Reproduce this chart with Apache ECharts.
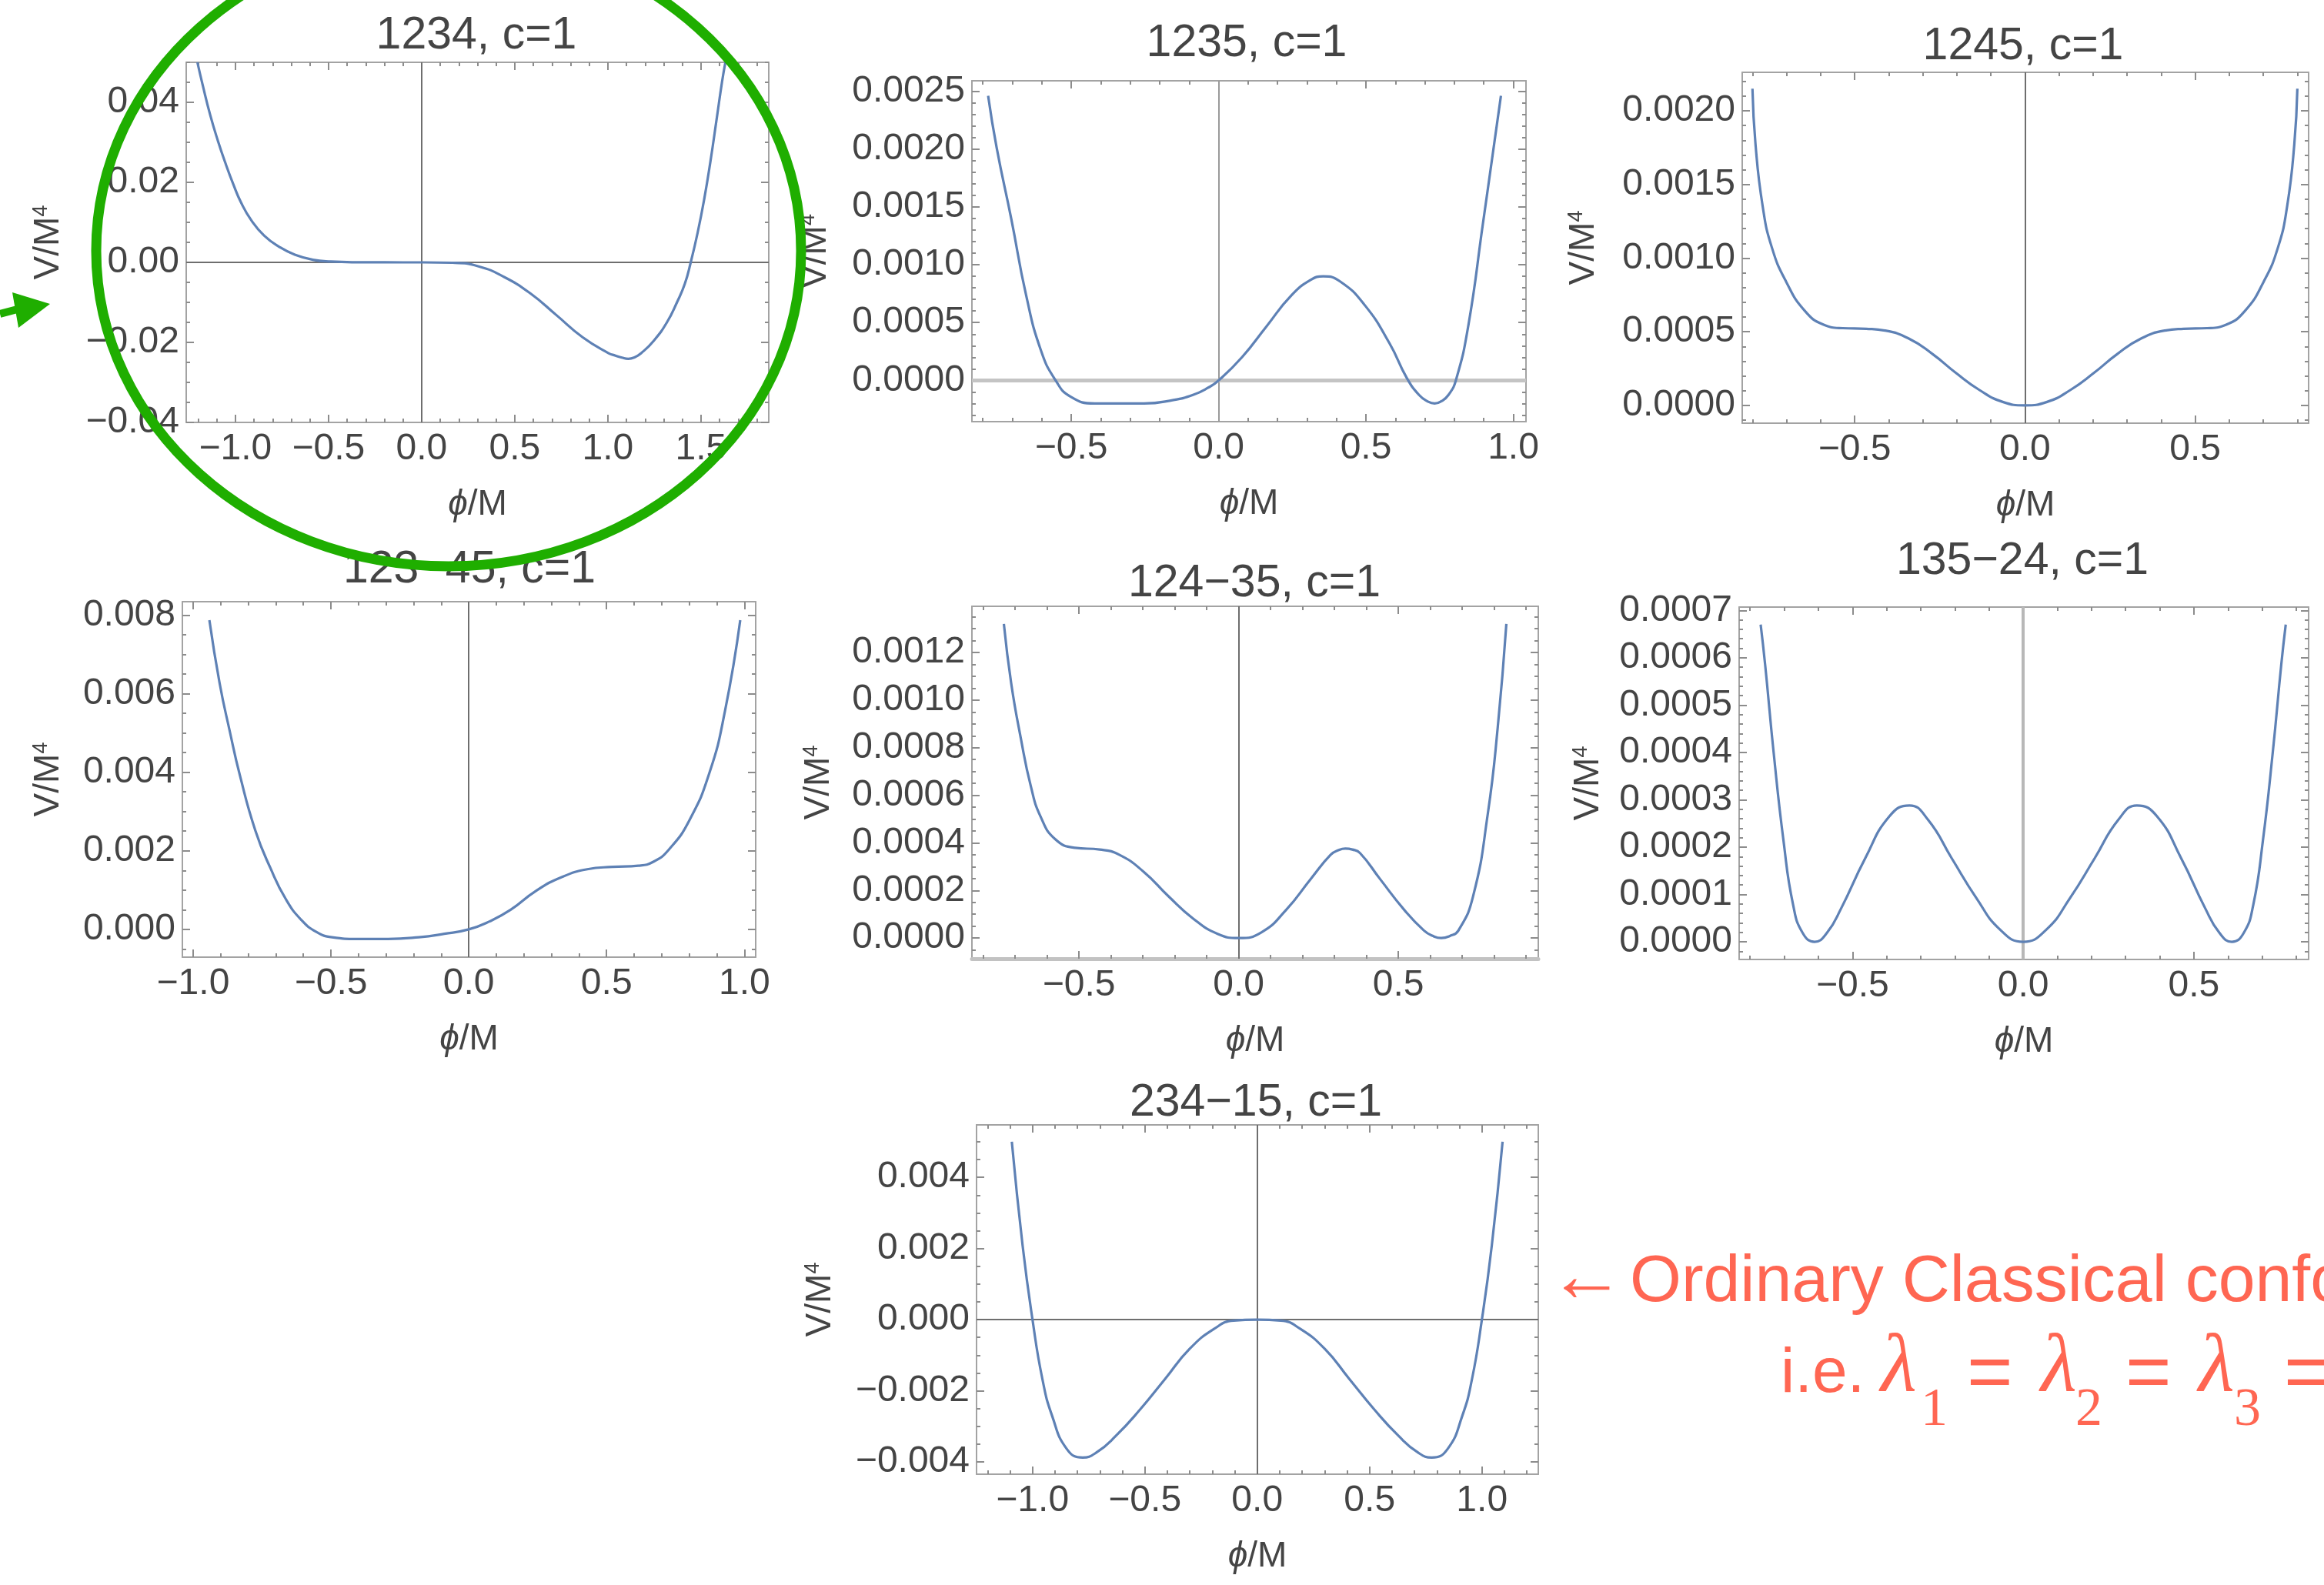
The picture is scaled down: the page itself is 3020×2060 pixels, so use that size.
<!DOCTYPE html>
<html>
<head>
<meta charset="utf-8">
<title>Potential shapes V/M^4</title>
<script src="https://cdn.jsdelivr.net/npm/echarts@6/dist/echarts.min.js"></script>
<style>
  html, body { margin: 0; padding: 0; background: #ffffff; }
  #chart { width: 3020px; height: 2060px; }
</style>
</head>
<body>
<div id="chart"></div>
<script>
// ---------- curve samples: phi/M and V/M^4 ----------
const phi1234 = [-1.204, -1.176, -1.135, -1.094, -1.052, -1.011, -0.970, -0.915, -0.846, -0.763, -0.681, -0.584, -0.488, -0.35, -0.2, 0, 0.166, 0.306, 0.445, 0.585, 0.724, 0.864, 1.004, 1.041, 1.075, 1.110, 1.145, 1.179, 1.248, 1.317, 1.372, 1.413, 1.445, 1.482, 1.517, 1.551, 1.585, 1.613, 1.631];
const v1234   = [0.05, 0.0444, 0.0368, 0.0304, 0.0246, 0.0195, 0.0150, 0.01055, 0.0067, 0.00384, 0.00192, 0.00065, 0.0002, 0.00003, 0.000005, 0, -0.0001, -0.001, -0.0037, -0.0078, -0.0132, -0.0187, -0.0227, -0.0233, -0.0238, -0.0241, -0.0237, -0.0227, -0.0195, -0.0150, -0.0099, -0.0054, 0, 0.0074, 0.0157, 0.0253, 0.0361, 0.0451, 0.05];

const phi1235 = [-0.782, -0.753, -0.703, -0.653, -0.603, -0.553, -0.503, -0.42, -0.253, -0.153, -0.087, -0.037, 0, 0.08, 0.163, 0.247, 0.313, 0.355, 0.413, 0.497, 0.58, 0.638, 0.68, 0.71, 0.733, 0.757, 0.78, 0.805, 0.847, 0.897, 0.93, 0.958];
const v1235   = [0.00246, 0.00201, 0.00139, 0.000735, 0.000261, 0.0, -0.000139, -0.000199, -0.000199, -0.000169, -0.000125, -0.000065, 0, 0.000202, 0.000469, 0.000735, 0.000869, 0.000899, 0.000854, 0.000647, 0.00032, 0.000024, -0.000125, -0.000182, -0.000199, -0.000178, -0.000125, 0, 0.000469, 0.001358, 0.001952, 0.00246];

const phi1245 = [-0.80, -0.791, -0.770, -0.743, -0.701, -0.646, -0.591, -0.535, -0.466, -0.411, -0.342, -0.272, -0.203, -0.134, -0.065, 0, 0.065, 0.134, 0.203, 0.272, 0.342, 0.411, 0.466, 0.535, 0.591, 0.646, 0.701, 0.743, 0.770, 0.791, 0.80];
const v1245   = [0.00215, 0.001772, 0.001352, 0.001072, 0.000839, 0.000641, 0.000548, 0.000524, 0.00052, 0.000508, 0.000455, 0.00035, 0.000221, 0.000105, 0.0000233, 0, 0.0000233, 0.000105, 0.000221, 0.00035, 0.000455, 0.000508, 0.00052, 0.000524, 0.000548, 0.000641, 0.000839, 0.001072, 0.001352, 0.001772, 0.00215];

const phi12345 = [-0.941, -0.904, -0.867, -0.83, -0.774, -0.719, -0.663, -0.607, -0.552, -0.496, -0.404, -0.293, -0.181, -0.089, 0, 0.075, 0.152, 0.244, 0.337, 0.43, 0.522, 0.615, 0.67, 0.726, 0.8, 0.874, 0.93, 0.985];
const v12345   = [0.00787, 0.00627, 0.00504, 0.00391, 0.00251, 0.00155, 0.00076, 0.000236, -0.00007, -0.000201, -0.000245, -0.000245, -0.000201, -0.000114, 0, 0.0002, 0.000498, 0.00098, 0.00133, 0.00153, 0.00159, 0.00162, 0.00172, 0.00203, 0.00277, 0.004, 0.00557, 0.00787];

const phi12435 = [-0.735, -0.712, -0.682, -0.651, -0.62, -0.574, -0.512, -0.435, -0.374, -0.297, -0.22, -0.143, -0.066, 0, 0.072, 0.149, 0.226, 0.288, 0.312, 0.334, 0.356, 0.38, 0.442, 0.518, 0.58, 0.61, 0.634, 0.66, 0.688, 0.734, 0.78, 0.811, 0.838];
const v12435   = [0.00132, 0.00107, 0.00084, 0.00064, 0.00051, 0.000415, 0.000379, 0.000372, 0.00035, 0.000278, 0.000176, 0.0000824, 0.0000174, 0, 0.0000246, 0.000119, 0.000249, 0.00035, 0.000369, 0.000376, 0.000372, 0.000357, 0.000249, 0.000119, 0.0000318, 0.0000075, 0, 0.000008, 0.0000318, 0.000176, 0.000523, 0.000885, 0.00132];

const phi13524 = [-0.769, -0.756, -0.731, -0.702, -0.674, -0.646, -0.611, -0.575, -0.533, -0.463, -0.392, -0.333, -0.279, -0.209, -0.138, -0.068, 0, 0.068, 0.138, 0.209, 0.279, 0.333, 0.392, 0.463, 0.533, 0.575, 0.611, 0.646, 0.674, 0.702, 0.731, 0.756, 0.769];
const v13524   = [0.00067, 0.000586, 0.0004, 0.000213, 0.0000784, 0.0000187, 0, 0.0000187, 0.000071, 0.000176, 0.000265, 0.000288, 0.000258, 0.000176, 0.0000934, 0.000026, 0, 0.000026, 0.0000934, 0.000176, 0.000258, 0.000288, 0.000265, 0.000176, 0.000071, 0.0000187, 0, 0.0000187, 0.0000784, 0.000213, 0.0004, 0.000586, 0.00067];

const phi23415 = [-1.092, -1.044, -1.0, -0.956, -0.913, -0.847, -0.777, -0.716, -0.629, -0.52, -0.41, -0.301, -0.192, -0.105, 0, 0.105, 0.192, 0.301, 0.41, 0.52, 0.629, 0.716, 0.777, 0.847, 0.913, 0.956, 1.0, 1.044, 1.092];
const v23415   = [0.005, 0.00208, 0, -0.00167, -0.0027, -0.00364, -0.00388, -0.00374, -0.00327, -0.00252, -0.00167, -0.000826, -0.000263, -0.000028, 0, -0.000028, -0.000263, -0.000826, -0.00167, -0.00252, -0.00327, -0.00374, -0.00388, -0.00364, -0.0027, -0.00167, 0, 0.00208, 0.005];

// ---------- panel titles and tick label values ----------
const titles = ['1234, c=1', '1235, c=1', '1245, c=1', '123\u221245, c=1', '124\u221235, c=1', '135\u221224, c=1', '234\u221215, c=1'];
const xTicks = [
  [-1.0, -0.5, 0, 0.5, 1.0, 1.5],
  [-0.5, 0, 0.5, 1.0],
  [-0.5, 0, 0.5],
  [-1.0, -0.5, 0, 0.5, 1.0],
  [-0.5, 0, 0.5],
  [-0.5, 0, 0.5],
  [-1.0, -0.5, 0, 0.5, 1.0]
];
const yTicks = [
  [-0.04, -0.02, 0, 0.02, 0.04],
  [0, 0.0005, 0.001, 0.0015, 0.002, 0.0025],
  [0, 0.0005, 0.001, 0.0015, 0.002],
  [0, 0.002, 0.004, 0.006, 0.008],
  [0, 0.0002, 0.0004, 0.0006, 0.0008, 0.001, 0.0012],
  [0, 0.0001, 0.0002, 0.0003, 0.0004, 0.0005, 0.0006, 0.0007],
  [-0.004, -0.002, 0, 0.002, 0.004]
];
const curvesPhi = [phi1234, phi1235, phi1245, phi12345, phi12435, phi13524, phi23415];
const curvesV   = [v1234, v1235, v1245, v12345, v12435, v13524, v23415];

// ---------- look ----------
const FONT = '"Liberation Sans", Arial, Helvetica, sans-serif';
const SERIF = '"Liberation Serif", "Times New Roman", serif';
const TEXT = '#444444';
const CURVE = '#5e81b5';
const FRAME = { color: '#a3a3a3', width: 2 };
const TICK = { color: '#8c8c8c', width: 2 };
const AXIS_DARK = { color: '#6e6e6e', width: 2 };
const MAJ = 10, MIN = 5;
const RED = '#ff6652';
const GREEN = '#1fae00';

// panel boxes, plot ranges and per-panel styling
const panels = [
  { box: [242, 81, 757, 468],  x: [-1.264, 1.864], y: [-0.04, 0.05],        xm: 0.1, ym: 0.005,   xd: 1, yd: 2, t: [619, 47],   yGap: 156, zx: AXIS_DARK, zy: AXIS_DARK },
  { box: [1263, 105, 720, 443], x: [-0.837, 1.043], y: [-0.000356, 0.002589], xm: 0.1, ym: 0.0001,  xd: 1, yd: 4, t: [1620, 57],  yGap: 180, zx: { color: '#9a9a9a', width: 2 }, zy: { color: '#c4c4c4', width: 5 } },
  { box: [2264, 94, 736, 456],  x: [-0.83, 0.833],  y: [-0.000121, 0.002261], xm: 0.1, ym: 0.0001,  xd: 1, yd: 4, t: [2629, 61],  yGap: 183, zx: AXIS_DARK, zy: null },
  { box: [237, 782, 745, 462],  x: [-1.039, 1.041], y: [-0.000708, 0.00834],  xm: 0.1, ym: 0.0005,  xd: 1, yd: 3, t: [610, 741],  yGap: 151, zx: AXIS_DARK, zy: null },
  { box: [1263, 788, 736, 458], x: [-0.835, 0.938], y: [-0.0000868, 0.001394], xm: 0.1, ym: 0.00005, xd: 1, yd: 4, t: [1630, 759], yGap: 176, zx: AXIS_DARK, zy: null, bottomFrame: { color: '#c2c2c2', width: 5 } },
  { box: [2260, 789, 740, 458], x: [-0.832, 0.836], y: [-0.0000373, 0.000707], xm: 0.1, ym: 0.00002, xd: 1, yd: 4, t: [2628, 730], yGap: 173, zx: { color: '#b8b8b8', width: 4 }, zy: null },
  { box: [1269, 1462, 730, 454], x: [-1.249, 1.251], y: [-0.004347, 0.005474], xm: 0.1, ym: 0.0005,  xd: 1, yd: 3, t: [1632, 1434], yGap: 180, zx: AXIS_DARK, zy: AXIS_DARK }
];

// minor tick positions between the labelled ones
function minorTicks(min, max, step, majors) {
  const out = [];
  const k0 = Math.ceil(min / step - 1e-9), k1 = Math.floor(max / step + 1e-9);
  for (let k = k0; k <= k1; k++) {
    const v = +(k * step).toFixed(10);
    if (!majors.some(m => Math.abs(m - v) < step * 1e-3)) out.push(v);
  }
  return out;
}
const fmt = (v, d) => {
  const s = (Math.abs(v) < 1e-12 ? 0 : v).toFixed(d);
  return s.replace('-', '\u2212');
};

const grids = [], xAxes = [], yAxes = [], series = [], graphics = [];

panels.forEach((P, i) => {
  grids.push({ left: P.box[0], top: P.box[1], width: P.box[2], height: P.box[3], containLabel: false });
  const xMinor = minorTicks(P.x[0], P.x[1], P.xm, xTicks[i]);
  const yMinor = minorTicks(P.y[0], P.y[1], P.ym, yTicks[i]);
  const labelStyle = { fontSize: 48, color: TEXT, fontFamily: FONT };
  const base = (dim, pos, lineOn, ticks, len) => ({
    type: 'value', gridIndex: i,
    min: dim === 'x' ? P.x[0] : P.y[0], max: dim === 'x' ? P.x[1] : P.y[1],
    position: pos,
    splitLine: { show: false },
    axisLine: { show: lineOn, onZero: false, lineStyle: FRAME },
    axisTick: { show: true, inside: true, length: len, customValues: ticks, lineStyle: TICK },
    axisLabel: { show: false },
    axisPointer: { show: false }
  });

  // bottom: labelled axis with frame line, plus minor ticks
  const xb = base('x', 'bottom', true, xTicks[i], MAJ);
  if (P.bottomFrame) xb.axisLine.lineStyle = P.bottomFrame;
  xb.axisLabel = Object.assign({ show: true, customValues: xTicks[i], margin: 11, formatter: v => fmt(v, P.xd), hideOverlap: false }, labelStyle);
  xb.name = '{i|\u03d5}/M';
  xb.nameLocation = 'middle';
  xb.nameGap = 84;
  xb.nameTextStyle = { fontSize: 46, color: TEXT, fontFamily: FONT, rich: { i: { fontSize: 46, fontStyle: 'italic', color: TEXT, fontFamily: FONT } } };
  xAxes.push(xb, base('x', 'bottom', false, xMinor, MIN), base('x', 'top', true, xTicks[i], MAJ), base('x', 'top', false, xMinor, MIN));

  // left: labelled axis with frame line, plus minor ticks
  const yl = base('y', 'left', true, yTicks[i], MAJ);
  yl.axisLabel = Object.assign({ show: true, customValues: yTicks[i], margin: 9, formatter: v => fmt(v, P.yd), hideOverlap: false }, labelStyle);
  yl.name = 'V/M{s|4}';
  yl.nameLocation = 'middle';
  yl.nameGap = P.yGap;
  yl.nameTextStyle = { fontSize: 46, color: TEXT, fontFamily: FONT, rich: { s: { fontSize: 27, color: TEXT, fontFamily: FONT, verticalAlign: 'top' } } };
  yAxes.push(yl, base('y', 'left', false, yMinor, MIN), base('y', 'right', true, yTicks[i], MAJ), base('y', 'right', false, yMinor, MIN));

  const zeroLines = [];
  if (P.zx) zeroLines.push({ xAxis: 0, lineStyle: Object.assign({ type: 'solid' }, P.zx) });
  if (P.zy) zeroLines.push({ yAxis: 0, lineStyle: Object.assign({ type: 'solid' }, P.zy) });

  series.push({
    type: 'line',
    xAxisIndex: 4 * i, yAxisIndex: 4 * i,
    data: curvesPhi[i].map((p, k) => [p, curvesV[i][k]]),
    showSymbol: false, symbol: 'none',
    smooth: 0.5,
    clip: true,
    lineStyle: { color: CURVE, width: 3.2 },
    z: 3,
    silent: true,
    markLine: {
      silent: true, symbol: ['none', 'none'], z: 1,
      label: { show: false },
      animation: false,
      data: zeroLines
    }
  });

  graphics.push({
    type: 'text', x: P.t[0], y: P.t[1], z: 10,
    style: { text: titles[i], fontSize: 59, fontFamily: FONT, fill: TEXT, align: 'center', verticalAlign: 'middle', textAlign: 'center', textVerticalAlign: 'middle' }
  });
});

// highlight ring round the first panel and its pointer
graphics.push({
  type: 'ellipse', z: 50,
  shape: { cx: 583, cy: 326, rx: 458, ry: 410 },
  style: { fill: null, stroke: GREEN, lineWidth: 13 }
});
graphics.push({
  type: 'polyline', z: 50,
  shape: { points: [[0, 408], [30, 400]] },
  style: { stroke: GREEN, lineWidth: 10, fill: null }
});
graphics.push({
  type: 'polygon', z: 50,
  shape: { points: [[65, 395], [16, 380], [24, 426]] },
  style: { fill: GREEN }
});

// side note next to the last panel
const note = (text, x, y, size, family, italic) => ({
  type: 'text', x: x, y: y, z: 60,
  style: { text: text, fontSize: size, fontFamily: family, fontStyle: italic ? 'italic' : 'normal', fill: RED,
           align: 'left', verticalAlign: 'middle', textAlign: 'left', textVerticalAlign: 'middle' }
});
graphics.push(note('\u2190', 2012, 1663, 100, FONT, false));
graphics.push(note('Ordinary Classical conformal', 2118, 1667, 86, FONT, false));
graphics.push(note('i.e.', 2314, 1786, 82, FONT, false));
graphics.push(note('\u03bb', 2444, 1780, 108, SERIF, true));
graphics.push(note('1', 2496, 1834, 70, SERIF, false));
graphics.push(note('=', 2556, 1789, 102, FONT, false));
graphics.push(note('\u03bb', 2652, 1780, 108, SERIF, true));
graphics.push(note('2', 2697, 1834, 70, SERIF, false));
graphics.push(note('=', 2762, 1789, 102, FONT, false));
graphics.push(note('\u03bb', 2857, 1780, 108, SERIF, true));
graphics.push(note('3', 2903, 1834, 70, SERIF, false));
graphics.push(note('=', 2968, 1789, 102, FONT, false));

const chart = echarts.init(document.getElementById('chart'), null, { renderer: 'canvas' });
chart.setOption({
  animation: false,
  backgroundColor: '#ffffff',
  textStyle: { fontFamily: FONT },
  grid: grids,
  xAxis: xAxes,
  yAxis: yAxes,
  series: series,
  graphic: graphics
});
</script>
</body>
</html>
